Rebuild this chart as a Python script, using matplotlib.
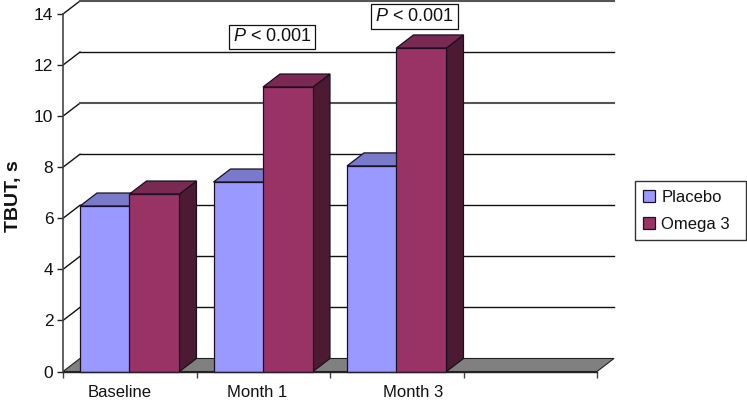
import matplotlib
matplotlib.use("Agg")
import matplotlib.pyplot as plt
from matplotlib.patches import Polygon, Rectangle

plt.rcParams['font.family'] = ['Liberation Sans', 'DejaVu Sans']
plt.rcParams['mathtext.fontset'] = 'custom'
plt.rcParams['mathtext.it'] = 'Liberation Sans:italic'
plt.rcParams['mathtext.rm'] = 'Liberation Sans'

# Data
categories = ["Baseline", "Month 1", "Month 3"]
placebo = [6.48, 7.42, 8.05]
omega3 = [6.95, 11.14, 12.67]
y_ticks = [0, 2, 4, 6, 8, 10, 12, 14]
p_label = "$\\mathit{P}$ < 0.001"

# Styles, front / top / side faces
blue = ['#9999FF', '#7A7ACC', '#4D4D80']
purple = ['#993366', '#7A2952', '#4D1A33']

# 3D look: depth of the chart in data units
dx = 17 / 133.5
dy = 13 / 25.5
bar_w = 50 / 133.5
edge = '#1a1020'

fig = plt.figure(figsize=(7.47, 4.01), dpi=100)
ax = fig.add_axes([63 / 747, (401 - 371.5) / 401, 534 / 747, 357.5 / 401])
ax.set_xlim(0, 4)
ax.set_ylim(0, 14)
ax.patch.set_visible(False)
for s in ['top', 'right']:
    ax.spines[s].set_visible(False)
ax.spines['left'].set_color('#444444')
ax.spines['left'].set_linewidth(1.2)


def draw_bar(x, val, cols):
    front = [(x, 0), (x + bar_w, 0), (x + bar_w, val), (x, val)]
    top = [(x, val), (x + bar_w, val), (x + bar_w + dx, val + dy), (x + dx, val + dy)]
    side = [(x + bar_w, 0), (x + bar_w + dx, dy), (x + bar_w + dx, val + dy), (x + bar_w, val)]
    for pts, c in zip([side, top, front], [cols[2], cols[1], cols[0]]):
        ax.add_patch(Polygon(pts, closed=True, facecolor=c, edgecolor=edge,
                             linewidth=0.9, clip_on=False, zorder=3))


# Walls, grid and floor
ax.add_patch(Polygon([(0, 0), (4, 0), (4 + dx, dy), (dx, dy)], closed=True,
                     facecolor='#808080', edgecolor='#222222', linewidth=0.8,
                     clip_on=False, zorder=2))
for t in y_ticks[1:]:
    ax.plot([0, dx], [t, t + dy], color='#111111', linewidth=1.0, clip_on=False, zorder=1)
    # the 10 and 14 lines come out heavier and greyer in the original
    if t in (10, 14):
        ax.plot([dx, 4 + dx], [t + dy, t + dy], color='#555555', linewidth=1.5,
                clip_on=False, zorder=1)
    else:
        ax.plot([dx, 4 + dx], [t + dy, t + dy], color='#111111', linewidth=1.0,
                clip_on=False, zorder=1)

for i in range(len(categories)):
    draw_bar(i + dx, placebo[i], blue)
    draw_bar(i + dx + bar_w - 0.004, omega3[i], purple)

# Axes
ax.set_yticks(y_ticks)
ax.set_xticks([0, 1, 2, 3, 4])
ax.set_xticklabels([])
ax.set_xticks([(120 - 63) / 133.5, (257 - 63) / 133.5, (413 - 63) / 133.5], minor=True)
ax.set_xticklabels(categories, minor=True)
ax.tick_params(axis='x', which='minor', length=0, pad=10, labelsize=12, labelcolor='#111111')
ax.tick_params(axis='x', which='major', length=4, width=1.0, color='#444444')
ax.tick_params(axis='y', length=4, width=1.0, color='#222222', labelsize=12.5, pad=3,
               labelcolor='#111111')
ax.spines['bottom'].set_color('#222222')
ax.spines['bottom'].set_linewidth(1.0)
ax.spines['bottom'].set_zorder(4)
ax.set_ylabel("TBUT, s", fontsize=14, fontweight='bold', color='#111111')
ax.yaxis.set_label_coords(-41 / 534, 0.49)

# P value boxes
box = dict(boxstyle='square,pad=0.22', facecolor='white', edgecolor='#111111', linewidth=0.9)
ax.text(1.565, 13.1, p_label, ha='center', va='center', fontsize=13, color='#111111',
        bbox=box, clip_on=False, zorder=5)
ax.text(2.633, 13.9, p_label, ha='center', va='center', fontsize=13, color='#111111',
        bbox=box, clip_on=False, zorder=5)

# Legend, stretched to the box width of the original
handles = [Rectangle((0, 0), 1, 1, facecolor=blue[0], edgecolor=edge, linewidth=0.9),
           Rectangle((0, 0), 1, 1, facecolor=purple[0], edgecolor=edge, linewidth=0.9)]
leg = fig.legend(handles, ["Placebo", "Omega 3"], loc='lower left', mode='expand',
                 bbox_to_anchor=(634.5 / 747, (401 - 240) / 401, 111.5 / 747, 59.5 / 401),
                 borderaxespad=0, fontsize=12, fancybox=False, framealpha=1,
                 edgecolor='#333333', handlelength=0.7, handleheight=0.8,
                 handletextpad=0.4, labelspacing=0.7, borderpad=0.5, labelcolor='#111111')
leg.get_frame().set_linewidth(1.0)

fig.savefig("out.png", dpi=100)
